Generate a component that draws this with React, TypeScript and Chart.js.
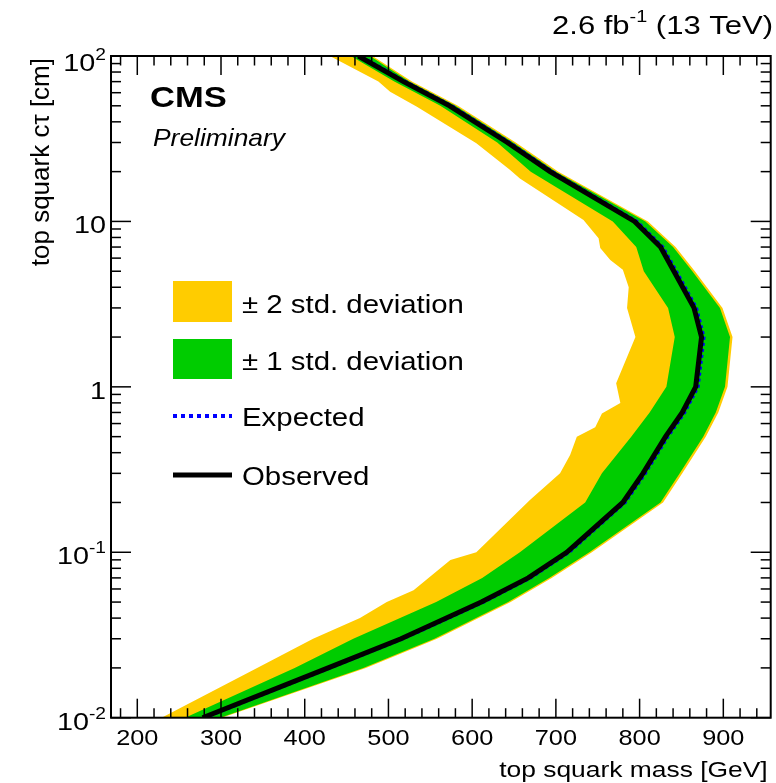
import React, { useEffect, useRef } from 'react';
import { Chart, registerables } from 'chart.js';

Chart.register(...registerables);

// ---- data (top squark mass [GeV] vs c*tau [cm]) ----
const ctGrid = [0.01, 0.02, 0.03, 0.05, 0.07, 0.1, 0.2, 0.3, 0.5, 0.7, 1, 2, 3, 5, 7, 10, 20, 30, 50, 70, 100];
const observedMass = [278, 428, 515, 611, 667, 713, 780, 804, 831, 851, 867, 874, 865, 841, 825, 794, 693, 642, 573, 518, 464];
const expectedMass = [281, 431, 518, 614, 670, 716, 783, 807, 834, 854, 870, 877, 868, 844, 828, 797, 696, 645, 576, 521, 467];
const oneSigmaDownMass = [257, 388, 458, 557, 612, 657, 735, 755, 790, 812, 832, 842, 834, 805, 796, 768, 670, 630, 562, 507, 455];
const oneSigmaUpMass = [299, 470, 555, 643, 692, 740, 825, 848, 876, 891, 902, 908, 896, 863, 840, 807, 700, 649, 580, 525, 478];
const twoSigmaUpMass = [301, 473, 558, 646, 695, 743, 828, 851, 879, 894, 905, 911, 899, 866, 843, 810, 703, 652, 583, 528, 481];
const twoSigmaDownCt = [0.01, 0.0208, 0.03, 0.04, 0.05, 0.059, 0.0897, 0.1, 0.207, 0.3, 0.387, 0.5, 0.57, 0.69, 0.8, 1.05, 2, 3, 4, 5.1, 5.85, 6.9, 7.9, 10.2, 18.2, 20.5, 29.7, 49.3, 60.8, 70, 100];
const twoSigmaDownMass = [229, 350, 410, 466, 498, 530, 574, 605, 669, 705, 717, 725, 747, 755, 777, 772, 795, 785, 787, 780, 765, 753, 751, 733, 657, 645, 605, 534, 502, 488, 430];

const xMin = 168.6;
const xMax = 956.6;
const yMin = 0.01;
const yMax = 100;
const xTickValues = [200, 300, 400, 500, 600, 700, 800, 900];
const xTickLabels = ['200', '300', '400', '500', '600', '700', '800', '900'];
const yTickValues = [0.01, 0.1, 1, 10, 100];
const yTickBase = ['10', '10', '1', '10', '10'];
const yTickExp = ['-2', '-1', '', '', '2'];
const legendLabels = ['\u00b1 2 std. deviation', '\u00b1 1 std. deviation', 'Expected', 'Observed'];

const YELLOW = '#ffcc00';
const GREEN = '#00cc00';
const FONT = "'Liberation Sans', Arial, Helvetica, sans-serif";
const SX = 1.2;

const pts = (ms: number[], cs: number[]) => cs.map((c, i) => ({ x: ms[i], y: c }));
const band = (lowM: number[], lowC: number[], highM: number[], highC: number[]) => [
  ...pts(lowM, lowC),
  ...pts(highM, highC).reverse(),
];

function txt(ctx: CanvasRenderingContext2D, s: string, x: number, y: number, font: string, align: CanvasTextAlign = 'left', sx = SX) {
  ctx.save();
  ctx.font = font;
  ctx.textAlign = align;
  ctx.textBaseline = 'alphabetic';
  ctx.translate(x, y);
  ctx.scale(sx, 1);
  ctx.fillText(s, 0, 0);
  ctx.restore();
}
function tw(ctx: CanvasRenderingContext2D, s: string, font: string, sx = SX) {
  ctx.save();
  ctx.font = font;
  const w = ctx.measureText(s).width * sx;
  ctx.restore();
  return w;
}

const rootFrame = {
  id: 'rootFrame',
  afterDraw(chart: any) {
    const { ctx, chartArea: a, scales } = chart;
    const xs = scales.x;
    const ys = scales.y;
    ctx.save();
    ctx.fillStyle = '#000';
    ctx.strokeStyle = '#000';
    ctx.lineWidth = 1.5;
    const seg = (x1: number, y1: number, x2: number, y2: number) => {
      ctx.beginPath();
      ctx.moveTo(x1, y1);
      ctx.lineTo(x2, y2);
      ctx.stroke();
    };
    // x ticks (major 100, minor 20)
    for (let v = 180; v <= xMax; v += 20) {
      const px = xs.getPixelForValue(v);
      const len = v % 100 === 0 ? 19 : 9.5;
      seg(px, a.bottom, px, a.bottom - len);
      seg(px, a.top, px, a.top + len);
    }
    // y ticks (log)
    for (let e = -2; e <= 2; e++) {
      for (let k = 1; k <= 9; k++) {
        const v = k * Math.pow(10, e);
        if (v > yMax * 1.0001) break;
        const py = ys.getPixelForValue(v);
        const len = k === 1 ? 20 : 10;
        seg(a.left, py, a.left + len, py);
        seg(a.right, py, a.right - len, py);
      }
    }
    ctx.lineWidth = 2;
    ctx.strokeRect(a.left, a.top, a.right - a.left, a.bottom - a.top);

    // x tick labels
    const fx = `22px ${FONT}`;
    xTickValues.forEach((v, i) => {
      txt(ctx, xTickLabels[i], xs.getPixelForValue(v), a.bottom + 27, fx, 'center', 1.15);
    });
    // y tick labels
    const fb = `24px ${FONT}`;
    const fe = `16px ${FONT}`;
    yTickValues.forEach((v, i) => {
      const py = ys.getPixelForValue(v);
      const by = Math.max(py + 12, a.top + 15);
      const wb = tw(ctx, yTickBase[i], fb);
      const we = yTickExp[i] ? tw(ctx, yTickExp[i], fe) : 0;
      const x0 = a.left - 5 - wb - we;
      txt(ctx, yTickBase[i], x0, by, fb);
      if (yTickExp[i]) txt(ctx, yTickExp[i], x0 + wb, by - 11, fe);
    });

    // axis titles
    txt(ctx, 'top squark mass [GeV]', a.right - 3, 777, `22px ${FONT}`, 'right');
    ctx.save();
    ctx.translate(49, a.top + 2);
    ctx.rotate(-Math.PI / 2);
    ctx.font = `26px ${FONT}`;
    ctx.textAlign = 'right';
    ctx.fillText('top squark c\u03c4 [cm]', 0, 0);
    ctx.restore();

    // top-right lumi label
    const ft = `25px ${FONT}`;
    const fts = `16px ${FONT}`;
    const p1 = '2.6 fb';
    const p2 = '-1';
    const p3 = ' (13 TeV)';
    const sxT = 1.24;
    const w1 = tw(ctx, p1, ft, sxT);
    const w2 = tw(ctx, p2, fts, sxT);
    const w3 = tw(ctx, p3, ft, sxT);
    const left = 773 - w1 - w2 - w3;
    txt(ctx, p1, left, 34, ft, 'left', sxT);
    txt(ctx, p2, left + w1, 22, fts, 'left', sxT);
    txt(ctx, p3, left + w1 + w2, 34, ft, 'left', sxT);

    // CMS Preliminary
    txt(ctx, 'CMS', 150, 107, `bold 30px ${FONT}`, 'left', 1.15);
    txt(ctx, 'Preliminary', 153, 146, `italic 24px ${FONT}`, 'left', 1.1);

    // legend
    ctx.fillStyle = YELLOW;
    ctx.fillRect(173, 281, 59, 41);
    ctx.fillStyle = GREEN;
    ctx.fillRect(173, 339, 59, 40);
    ctx.strokeStyle = '#0000ff';
    ctx.lineWidth = 4;
    ctx.setLineDash([4, 4]);
    seg(173, 416, 232, 416);
    ctx.setLineDash([]);
    ctx.strokeStyle = '#000';
    ctx.lineWidth = 5;
    seg(173, 475, 232, 475);
    ctx.fillStyle = '#000';
    const fl = `26px ${FONT}`;
    txt(ctx, legendLabels[0], 242, 313, fl, 'left', 1.13);
    txt(ctx, legendLabels[1], 242, 370, fl, 'left', 1.13);
    txt(ctx, legendLabels[2], 242, 426, fl, 'left', 1.13);
    txt(ctx, legendLabels[3], 242, 485, fl, 'left', 1.13);
    ctx.restore();
  },
};

export default function App() {
  const ref = useRef<HTMLCanvasElement | null>(null);
  useEffect(() => {
    document.body.style.margin = '0';
    const canvas = ref.current;
    if (!canvas) return;
    const chart = new Chart(canvas, {
      type: 'scatter',
      data: {
        datasets: [
          {
            label: 'Observed',
            data: pts(observedMass, ctGrid),
            showLine: true,
            borderColor: '#000000',
            borderWidth: 5,
            pointRadius: 0,
            fill: false,
            tension: 0,
            order: 0,
          },
          {
            label: 'Expected',
            data: pts(expectedMass, ctGrid),
            showLine: true,
            borderColor: '#0000ff',
            borderWidth: 3,
            borderDash: [3, 3],
            pointRadius: 0,
            fill: false,
            tension: 0,
            order: 1,
          },
          {
            label: '\u00b1 1 std. deviation',
            data: band(oneSigmaDownMass, ctGrid, oneSigmaUpMass, ctGrid),
            showLine: true,
            borderColor: 'rgba(0,0,0,0)',
            borderWidth: 0,
            backgroundColor: GREEN,
            pointRadius: 0,
            fill: 'shape',
            tension: 0,
            order: 2,
          },
          {
            label: '\u00b1 2 std. deviation',
            data: band(twoSigmaDownMass, twoSigmaDownCt, twoSigmaUpMass, ctGrid),
            showLine: true,
            borderColor: 'rgba(0,0,0,0)',
            borderWidth: 0,
            backgroundColor: YELLOW,
            pointRadius: 0,
            fill: 'shape',
            tension: 0,
            order: 3,
          },
        ],
      },
      options: {
        animation: false,
        responsive: false,
        devicePixelRatio: 1,
        layout: { padding: { left: 111, top: 56, right: 5.3, bottom: 65.3 } },
        plugins: { legend: { display: false }, tooltip: { enabled: false }, title: { display: false } },
        scales: {
          x: { type: 'linear', min: xMin, max: xMax, display: false },
          y: { type: 'logarithmic', min: yMin, max: yMax, display: false },
        },
      } as any,
      plugins: [rootFrame],
    });
    return () => chart.destroy();
  }, []);
  return <canvas ref={ref} width={776} height={783} style={{ display: 'block', width: 776, height: 783 }} />;
}
